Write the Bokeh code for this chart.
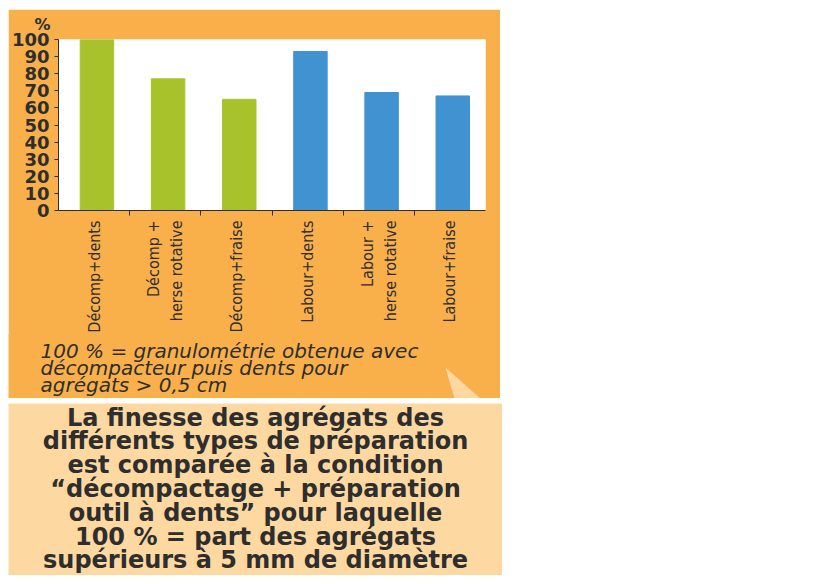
import numpy as np
from bokeh.plotting import figure
from bokeh.models import (ColumnDataSource, Range1d, FixedTicker, Label, Title,
                          PolyAnnotation)
from bokeh.layouts import column
from bokeh.embed import file_html
from bokeh.resources import INLINE

# data
categories = ["Décomp+dents", "Décomp +\nherse rotative", "Décomp+fraise",
              "Labour+dents", "Labour +\nherse rotative", "Labour+fraise"]
finesse = [100, 77, 65, 93, 69, 67]
bar_colors = ["#A7C22B", "#A7C22B", "#A7C22B", "#4192D1", "#4192D1", "#4192D1"]
y_ticks = [0, 10, 20, 30, 40, 50, 60, 70, 80, 90, 100]
note_lines = ["100 % = granulométrie obtenue avec",
              "décompacteur puis dents pour",
              "agrégats > 0,5 cm"]
caption_lines = ["La finesse des agrégats des",
                 "différents types de préparation",
                 "est comparée à la condition",
                 "“décompactage + préparation",
                 "outil à dents” pour laquelle",
                 "100 % = part des agrégats",
                 "supérieurs à 5 mm de diamètre"]

ORANGE = "#F9B04B"
PEACH = "#FDD8A1"
INK = "#2E2E2E"

n = len(categories)
slot = np.arange(n) + 0.5          # centre of each category slot
src = ColumnDataSource(data=dict(x=slot + 0.04, value=finesse, color=bar_colors))

# ---- bar chart ----
p = figure(x_range=Range1d(0, n), y_range=Range1d(0, 100),
           width=492, height=326, output_backend="svg", toolbar_location=None,
           min_border_left=48, min_border_right=15, min_border_top=30, min_border_bottom=118,
           background_fill_color="white", border_fill_color=ORANGE,
           outline_line_color=None)
p.frame_align = False
p.grid.grid_line_color = None

p.vbar(x="x", top="value", width=0.47, color="color", source=src)

p.yaxis.ticker = FixedTicker(ticks=y_ticks)
p.yaxis.major_tick_in = 0
p.yaxis.major_tick_out = 4
p.yaxis.minor_tick_line_color = None
p.yaxis.major_label_standoff = 5
p.yaxis.axis_line_color = INK
p.yaxis.major_tick_line_color = INK
p.yaxis.major_label_text_font = "DejaVu Sans"
p.yaxis.major_label_text_font_style = "bold"
p.yaxis.major_label_text_font_size = "18px"
p.yaxis.major_label_text_color = INK

# category names at slot centres, small ticks between the slots
p.xaxis.ticker = FixedTicker(ticks=list(slot), minor_ticks=list(range(1, n)))
p.xaxis.major_label_overrides = {float(s): c for s, c in zip(slot, categories)}
p.xaxis.axis_line_color = INK
p.xaxis.major_tick_line_color = None
p.xaxis.major_tick_in = 0
p.xaxis.major_tick_out = 0
p.xaxis.minor_tick_line_color = INK
p.xaxis.minor_tick_in = 0
p.xaxis.minor_tick_out = 5
p.xaxis.major_label_orientation = np.pi / 2
p.xaxis.major_label_standoff = 5
p.xaxis.major_label_text_font = "DejaVu Sans Condensed"
p.xaxis.major_label_text_font_size = "16px"
p.xaxis.major_label_text_color = INK

p.add_layout(Title(text="%", align="left", offset=-24, standoff=8,
                   vertical_align="top",
                   text_font="DejaVu Sans", text_font_style="bold",
                   text_font_size="16px", text_color=INK), "above")

# ---- note under the chart ----
pn = figure(width=492, height=64, x_range=Range1d(0, 492), y_range=Range1d(0, 64),
            output_backend="svg", toolbar_location=None,
            x_axis_location=None, y_axis_location=None, min_border=0,
            background_fill_color=ORANGE, border_fill_color=ORANGE,
            outline_line_color=None, margin=(-1, 0, 0, 0))
pn.frame_align = False
pn.grid.grid_line_color = None
for i, line in enumerate(note_lines):
    pn.add_layout(Label(x=32, y=48 - 17 * i, text=line,
                        text_align="left", text_baseline="middle",
                        text_font="DejaVu Sans", text_font_style="italic",
                        text_font_size="20px", text_color=INK))
# callout pointer
pn.add_layout(PolyAnnotation(xs=[437, 446, 472], ys=[31, 0, 0],
                             fill_color=PEACH, fill_alpha=1, line_color=None))

# ---- caption box ----
p2 = figure(width=494, height=172, x_range=Range1d(0, 494), y_range=Range1d(0, 172),
            output_backend="svg", toolbar_location=None,
            x_axis_location=None, y_axis_location=None, min_border=0,
            background_fill_color=PEACH, border_fill_color=PEACH,
            outline_line_color=None)
p2.frame_align = False
p2.grid.grid_line_color = None
for i, line in enumerate(caption_lines):
    p2.add_layout(Label(x=247, y=158 - 23.8 * i, text=line,
                        text_align="center", text_baseline="middle",
                        text_font="DejaVu Sans", text_font_style="bold",
                        text_font_size="24px", text_color=INK))

layout = column(column(p, pn, spacing=0), p2, spacing=5, margin=(9, 0, 0, 8))
open("out.html", "w").write(file_html(layout, INLINE))
